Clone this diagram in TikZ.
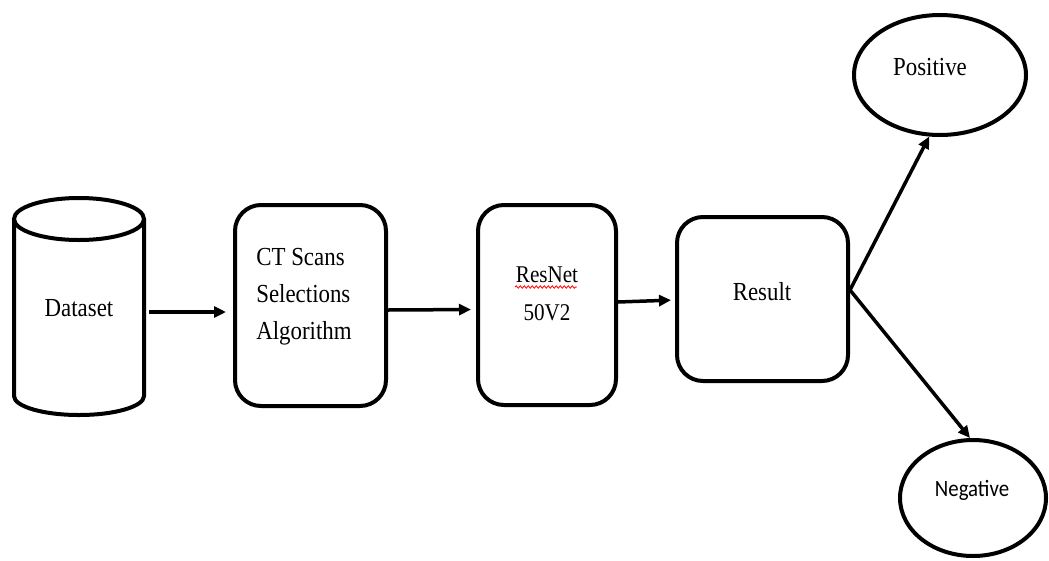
\documentclass[tikz,border=0pt]{standalone}
\usepackage{fontspec}
\setmainfont{Liberation Serif}
\newfontfamily\serfam[FakeStretch=0.88]{Liberation Serif}
\newfontfamily\sansfam[FakeStretch=0.89]{Carlito}
\usetikzlibrary{arrows.meta,shapes.geometric,decorations.pathmorphing}

\begin{document}
\begin{tikzpicture}[
  x=1pt, y=1pt,
  outline/.style={line width=4pt},
  procbox/.style={draw, line width=4pt, rounded corners=26pt, inner sep=0pt},
  oval/.style={draw, ellipse, line width=4pt, inner sep=0pt},
  lbl/.style={font=\serfam\fontsize{26}{37}\selectfont, inner sep=0pt},
  flow/.style={line width=3.5pt, -{Triangle[length=12pt,width=11pt]}},
]
\useasboundingbox (0,0) rectangle (1049,-560);

% database cylinder
\draw[outline] (79,-219) ellipse [x radius=65, y radius=21];
\draw[outline] (14,-219) -- (14,-396)
  arc[start angle=180, end angle=360, x radius=65, y radius=19] -- (144,-219);
\node[lbl, minimum width=140, minimum height=200] (ds) at (79,-308) {Dataset};

% processing boxes
\node[procbox, minimum width=151, minimum height=201] (ct) at (310.5,-305.5) {};
\node[lbl, align=left] (cttext) at (304,-297) {CT Scans\\Selections\\Algorithm};

\node[procbox, minimum width=138, minimum height=200] (rn) at (547,-305) {};
\node[lbl, align=center, font=\serfam\fontsize{24}{38}\selectfont] (rntext) at (547,-294) {ResNet\\50V2};
\draw[red, line width=0.8pt, decorate, decoration={snake, amplitude=1.2pt, segment length=4pt}]
  (515,-287) -- (577,-287);

\node[procbox, minimum width=171, minimum height=164] (res) at (762.5,-299) {};
\node[lbl] (restext) at (762,-292) {Result};

% outcomes
\node[oval, minimum width=172, minimum height=120] (pos) at (940,-75) {};
\node[lbl] (postext) at (930,-67) {Positive};

\node[oval, minimum width=146, minimum height=116] (neg) at (973,-498) {};
\node[inner sep=0pt, font=\sansfam\fontsize{23.4}{28}\selectfont] (negtext) at (972,-490) {Negative};

% flow arrows
\draw[flow, shorten >=7pt] ([yshift=-4pt]ds.east) -- ([yshift=-6.5pt]ct.west);
\draw[flow, shorten >=5pt] ([yshift=-4.5pt]ct.east) -- ([yshift=-4.5pt]rn.west);
\draw[flow, shorten >=4pt] ([yshift=3pt]rn.east) -- ([yshift=-1pt]res.west);
\draw[flow] ([yshift=9pt]res.east) -- (pos.260);
\draw[flow] ([yshift=9pt]res.east) -- ([xshift=-3pt]neg.north);
\end{tikzpicture}
\end{document}
